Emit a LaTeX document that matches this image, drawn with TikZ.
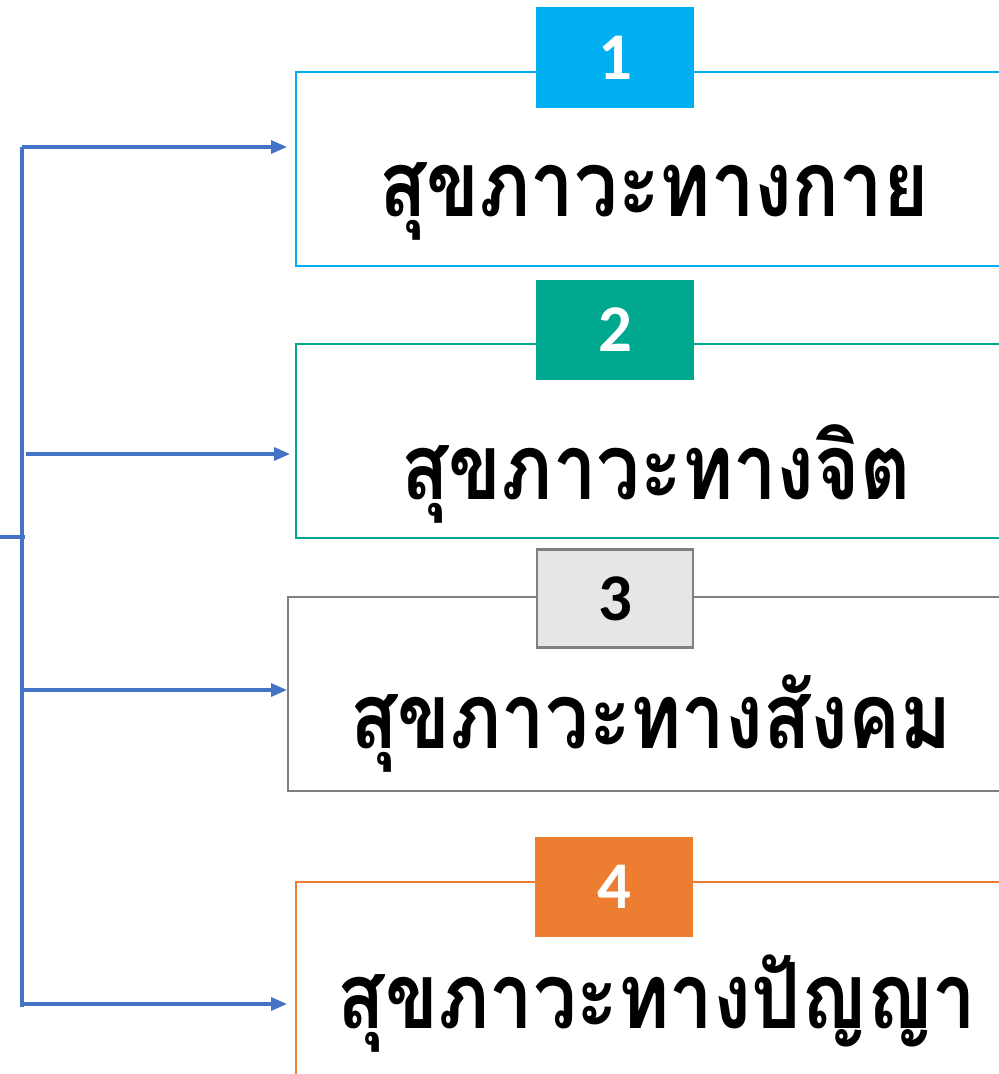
\documentclass[tikz,border=0pt]{standalone}
\usepackage{fontspec}
\setmainfont{Carlito}
\newfontfamily\thaifont[Script=Thai,FakeStretch=0.85]{Loma}
\usetikzlibrary{arrows.meta,positioning}
\definecolor{cyanA}{HTML}{00B0F0}
\definecolor{tealA}{HTML}{00A88F}
\definecolor{grayA}{HTML}{808080}
\definecolor{grayF}{HTML}{E6E6E6}
\definecolor{orangeA}{HTML}{ED7D31}
\definecolor{lineA}{HTML}{4472C4}

\begin{document}
\begin{tikzpicture}[>={Triangle[length=0.16cm,width=0.13cm]}]
  \useasboundingbox (0,0) rectangle (9.99,-10.74);
  \tikzstyle{frame}=[draw,line width=0.6pt,minimum width=7.3cm,minimum height=1.94cm,anchor=north west]
  \tikzstyle{numbox}=[draw,line width=0.6pt,minimum width=1.56cm,minimum height=0.98cm,font=\fontsize{19}{20}\selectfont\bfseries]
  \tikzstyle{title}=[font=\thaifont\fontsize{26}{30}\selectfont\bfseries]
  \tikzstyle{link}=[draw=lineA,line width=0.9pt]

  % four frames
  \node[frame,draw=cyanA] (kay) at (2.95,-0.71) {};
  \node[frame,draw=tealA] (jit) at (2.95,-3.43) {};
  \node[frame,draw=grayA] (sangkhom) at (2.87,-5.96) {};
  \node[frame,draw=orangeA] (panya) at (2.95,-8.81) {};

  % number tabs
  \node[numbox,draw=cyanA,fill=cyanA,text=white] (n1) at (6.15,-0.575) {1};
  \node[numbox,draw=tealA,fill=tealA,text=white] (n2) at (6.15,-3.30) {2};
  \node[numbox,draw=grayA,fill=grayF,text=black] (n3) at (6.15,-5.985) {3};
  \node[numbox,draw=orangeA,fill=orangeA,text=white] (n4) at (6.14,-8.87) {4};

  % titles
  \node[title] (t1) at (6.54,-2.01) {สุขภาวะทางกาย};
  \node[title] (t2) at (6.56,-4.74) {สุขภาวะทางจิต};
  \node[title] (t3) at (6.51,-7.24) {สุขภาวะทางสังคม};
  \node[title] (t4) at (6.57,-10.04) {สุขภาวะทางปัญญา};

  % connectors
  \coordinate (top) at (0.22,-1.47);
  \coordinate (bot) at (0.22,-10.07);
  \coordinate (in) at (0,-5.37);
  \coordinate (join) at (0.25,-5.37);
  \coordinate (s2) at (0.26,-4.54);
  \coordinate (s3) at (0.22,-6.90);
  \coordinate (s4) at (0.22,-10.04);
  \draw[link] (top) -- (bot);
  \draw[link] (in) -- (join);
  \draw[link,->,shorten >=0.08cm] (top) -- (top -| kay.west);
  \draw[link,->,shorten >=0.05cm] (s2) -- (s2 -| jit.west);
  \draw[link,->] (s3) -- (s3 -| sangkhom.west);
  \draw[link,->,shorten >=0.08cm] (s4) -- (s4 -| panya.west);
\end{tikzpicture}
\end{document}
